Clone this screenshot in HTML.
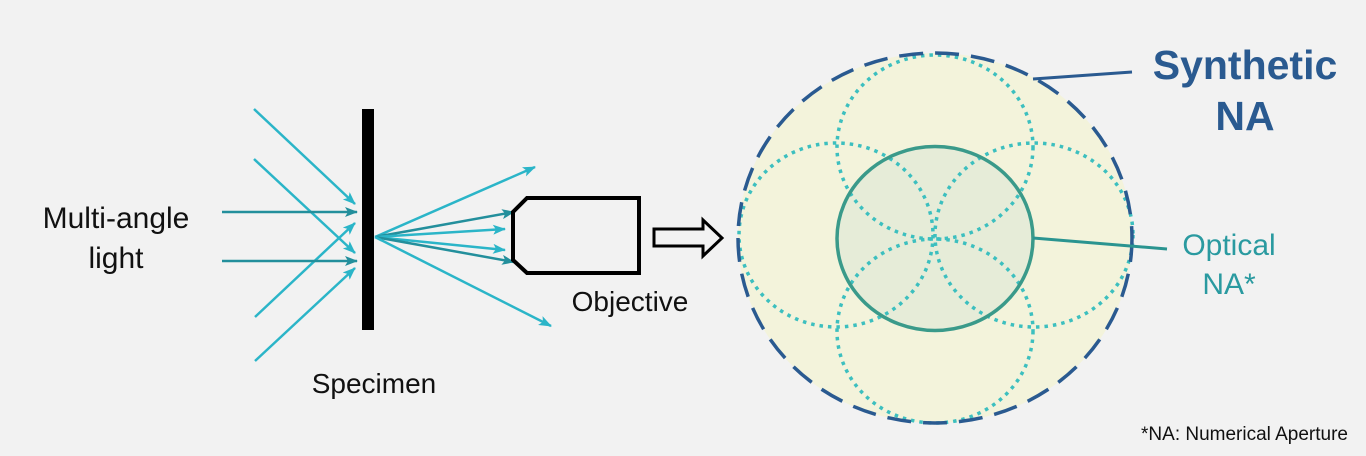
<!DOCTYPE html>
<html><head><meta charset="utf-8"><style>
html,body{margin:0;padding:0;background:#f2f2f2;}
svg{display:block;}
text{font-family:"Liberation Sans",sans-serif;}
</style></head><body>
<svg width="1366" height="456" viewBox="0 0 1366 456" xmlns="http://www.w3.org/2000/svg">
<defs>
<marker id="a" markerWidth="13" markerHeight="10" refX="12" refY="5" orient="auto" markerUnits="userSpaceOnUse"><path d="M0,0 L13,5 L0,10 L3,5 Z" fill="#2bb5c8"/></marker>
<marker id="b" markerWidth="13" markerHeight="10" refX="12" refY="5" orient="auto" markerUnits="userSpaceOnUse"><path d="M0,0 L13,5 L0,10 L3,5 Z" fill="#238f9c"/></marker>
</defs>
<rect width="1366" height="456" fill="#f2f2f2"/>
<g stroke-width="2.5" fill="none">
<line x1="254" y1="109" x2="355" y2="204" stroke="#2bb5c8" marker-end="url(#a)"/>
<line x1="254" y1="159" x2="355" y2="253" stroke="#2bb5c8" marker-end="url(#a)"/>
<line x1="255" y1="317" x2="355" y2="223" stroke="#2bb5c8" marker-end="url(#a)"/>
<line x1="255" y1="361" x2="355" y2="268" stroke="#2bb5c8" marker-end="url(#a)"/>
<line x1="222" y1="212" x2="357" y2="212" stroke="#238f9c" marker-end="url(#b)"/>
<line x1="222" y1="261" x2="357" y2="261" stroke="#238f9c" marker-end="url(#b)"/>
<line x1="375" y1="237" x2="535" y2="167" stroke="#2bb5c8" marker-end="url(#a)"/>
<line x1="375" y1="237" x2="514" y2="212" stroke="#238f9c" marker-end="url(#b)"/>
<line x1="375" y1="237" x2="505" y2="229" stroke="#2bb5c8" marker-end="url(#a)"/>
<line x1="375" y1="237" x2="505" y2="250" stroke="#2bb5c8" marker-end="url(#a)"/>
<line x1="375" y1="237" x2="514" y2="262" stroke="#238f9c" marker-end="url(#b)"/>
<line x1="375" y1="237" x2="551" y2="326" stroke="#2bb5c8" marker-end="url(#a)"/>
</g>
<rect x="362" y="109" width="12" height="221" fill="#000"/>
<polygon points="527,198 639,198 639,273 527,273 513,260 513,212" fill="none" stroke="#000" stroke-width="4"/>
<polygon points="654,229 703,229 703,220 722,238 703,256 703,246 654,246" fill="none" stroke="#000" stroke-width="3"/>
<text x="116" y="228" font-size="30" text-anchor="middle" fill="#111">Multi-angle</text>
<text x="116" y="268" font-size="30" text-anchor="middle" fill="#111">light</text>
<text x="374" y="393" font-size="28" text-anchor="middle" fill="#111">Specimen</text>
<text x="630" y="311" font-size="28" text-anchor="middle" fill="#111">Objective</text>
<ellipse cx="935" cy="238" rx="197" ry="185" fill="#f3f3db"/>
<ellipse cx="935" cy="238.5" rx="98" ry="92" fill="#e6ecd8"/>
<g fill="none" stroke="#3cbfbf" stroke-width="3.5" stroke-dasharray="3.5 5">
<ellipse cx="935" cy="147" rx="98" ry="92"/>
<ellipse cx="935" cy="331" rx="98" ry="92"/>
<ellipse cx="836" cy="235" rx="97" ry="92"/>
<ellipse cx="1034" cy="235" rx="99" ry="92"/>
</g>
<ellipse cx="935" cy="238.5" rx="98" ry="92" fill="none" stroke="#3a9a8a" stroke-width="3.5"/>
<ellipse cx="935" cy="238" rx="197" ry="185" fill="none" stroke="#2a5a90" stroke-width="3.5" stroke-dasharray="24 12"/>
<line x1="1033" y1="79" x2="1132" y2="72" stroke="#2a5a90" stroke-width="3"/>
<line x1="1033" y1="238" x2="1167" y2="249" stroke="#2a9490" stroke-width="3"/>
<text x="1245" y="79" font-size="41" font-weight="bold" text-anchor="middle" fill="#2a5a90">Synthetic</text>
<text x="1245" y="130" font-size="41" font-weight="bold" text-anchor="middle" fill="#2a5a90">NA</text>
<text x="1229" y="255" font-size="30" text-anchor="middle" fill="#2a9aa0">Optical</text>
<text x="1229" y="294" font-size="30" text-anchor="middle" fill="#2a9aa0">NA*</text>
<text x="1348" y="440" font-size="19" text-anchor="end" fill="#111">*NA: Numerical Aperture</text>
</svg>
</body></html>
